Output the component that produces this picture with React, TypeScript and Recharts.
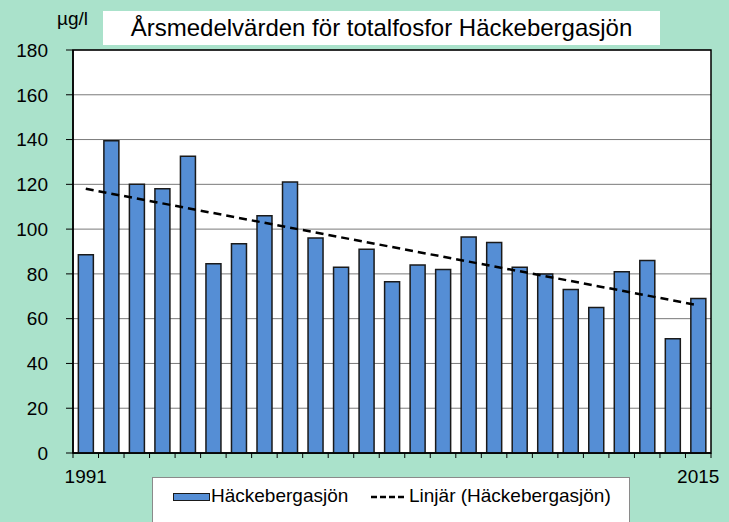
import React from 'react';
import { ComposedChart, Bar, Line, XAxis, YAxis, CartesianGrid, ReferenceArea } from 'recharts';

const years = ['1991','1992','1993','1994','1995','1996','1997','1998','1999','2000','2001','2002','2003','2004','2005','2006','2007','2008','2009','2010','2011','2012','2013','2014','2015'];
const values = [88.5, 139.5, 120, 118, 132.5, 84.5, 93.5, 106, 121, 96, 83, 91, 76.5, 84, 82, 96.5, 94, 83, 80, 73, 65, 81, 86, 51, 69];
const trendStart = 118;
const trendEnd = 66;
const yTicks = [0, 20, 40, 60, 80, 100, 120, 140, 160, 180];

const title = 'Årsmedelvärden för totalfosfor Häckebergasjön';
const unit = 'µg/l';
const seriesName = 'Häckebergasjön';
const trendName = 'Linjär (Häckebergasjön)';

const data = years.map((y, i) => ({
  year: y,
  value: values[i],
  trend: i === 0 ? trendStart : i === years.length - 1 ? trendEnd : null,
}));

const FONT = '"Liberation Sans", Arial, sans-serif';
const BG = '#AAE2CB';
const BAR = '#558ED5';

const XTick = (props: any) => {
  const { x, y, payload, index } = props;
  const half = payload && typeof payload.offset === 'number' && payload.offset > 0 ? payload.offset : 12.76;
  const last = years.length - 1;
  const showLabel = index === 0 || index === last;
  return (
    <g>
      <line x1={x - half} x2={x - half} y1={y} y2={y + 5} stroke="#000" strokeWidth={1} />
      {index === last && <line x1={x + half} x2={x + half} y1={y} y2={y + 5} stroke="#000" strokeWidth={1} />}
      {showLabel && (
        <text x={x} y={y + 30} textAnchor="middle" fontSize={19} fill="#000" fontFamily={FONT}>
          {payload.value}
        </text>
      )}
    </g>
  );
};

export default function App() {
  return (
    <div style={{ position: 'absolute', left: 0, top: 0, width: 729, height: 522, background: BG, fontFamily: FONT, overflow: 'hidden' }}>
      <ComposedChart
        width={729}
        height={522}
        data={data}
        margin={{ top: 50, right: 18, bottom: 0, left: 0 }}
        barCategoryGap="21%"
      >
        <CartesianGrid vertical={false} stroke="#7a7a7a" strokeWidth={1} fill="#fff" />
        <XAxis
          dataKey="year"
          height={69}
          interval={0}
          tickSize={0}
          tickMargin={0}
          tickLine={false}
          axisLine={{ stroke: '#000', strokeWidth: 1.5 }}
          tick={<XTick />}
        />
        <YAxis
          width={73}
          domain={[0, 180]}
          ticks={yTicks}
          interval={0}
          tickSize={7}
          tickMargin={18}
          tickLine={{ stroke: '#000' }}
          axisLine={{ stroke: '#000', strokeWidth: 1.5 }}
          tick={{ fontSize: 19, fill: '#000', fontFamily: FONT }}
        />
        <Bar dataKey="value" fill={BAR} stroke="#1a1a1a" strokeWidth={1.5} isAnimationActive={false} />
        <Line
          dataKey="trend"
          stroke="#000"
          strokeWidth={2.5}
          strokeDasharray="8 5"
          dot={false}
          activeDot={false}
          connectNulls
          isAnimationActive={false}
        />
        <ReferenceArea y1={0} y2={180} fill="none" stroke="#000" strokeWidth={1.5} ifOverflow="visible" />
      </ComposedChart>

      <div style={{ position: 'absolute', left: 57, top: 8, fontSize: 19, lineHeight: '22px', color: '#000' }}>{unit}</div>

      <div style={{ position: 'absolute', left: 103, top: 11, width: 557, height: 34, background: '#fff', fontSize: 24, lineHeight: '34px', textAlign: 'center', color: '#000', whiteSpace: 'nowrap' }}>
        {title}
      </div>

      <div style={{ position: 'absolute', left: 152, top: 477, width: 478, height: 60, background: '#fff', border: '1px solid #8a8a8a', boxSizing: 'border-box' }}>
        <div style={{ position: 'absolute', left: 20, top: 15, width: 37, height: 8, background: BAR, border: '1.5px solid #1a1a1a', boxSizing: 'border-box' }} />
        <div style={{ position: 'absolute', left: 58, top: 7, fontSize: 19, lineHeight: '22px', color: '#000', whiteSpace: 'nowrap' }}>{seriesName}</div>
        <svg style={{ position: 'absolute', left: 218, top: 16 }} width={36} height={6}>
          <line x1={0} x2={36} y1={3} y2={3} stroke="#000" strokeWidth={2.5} strokeDasharray="6 3" />
        </svg>
        <div style={{ position: 'absolute', left: 256, top: 7, fontSize: 19, lineHeight: '22px', color: '#000', whiteSpace: 'nowrap' }}>{trendName}</div>
      </div>
    </div>
  );
}
